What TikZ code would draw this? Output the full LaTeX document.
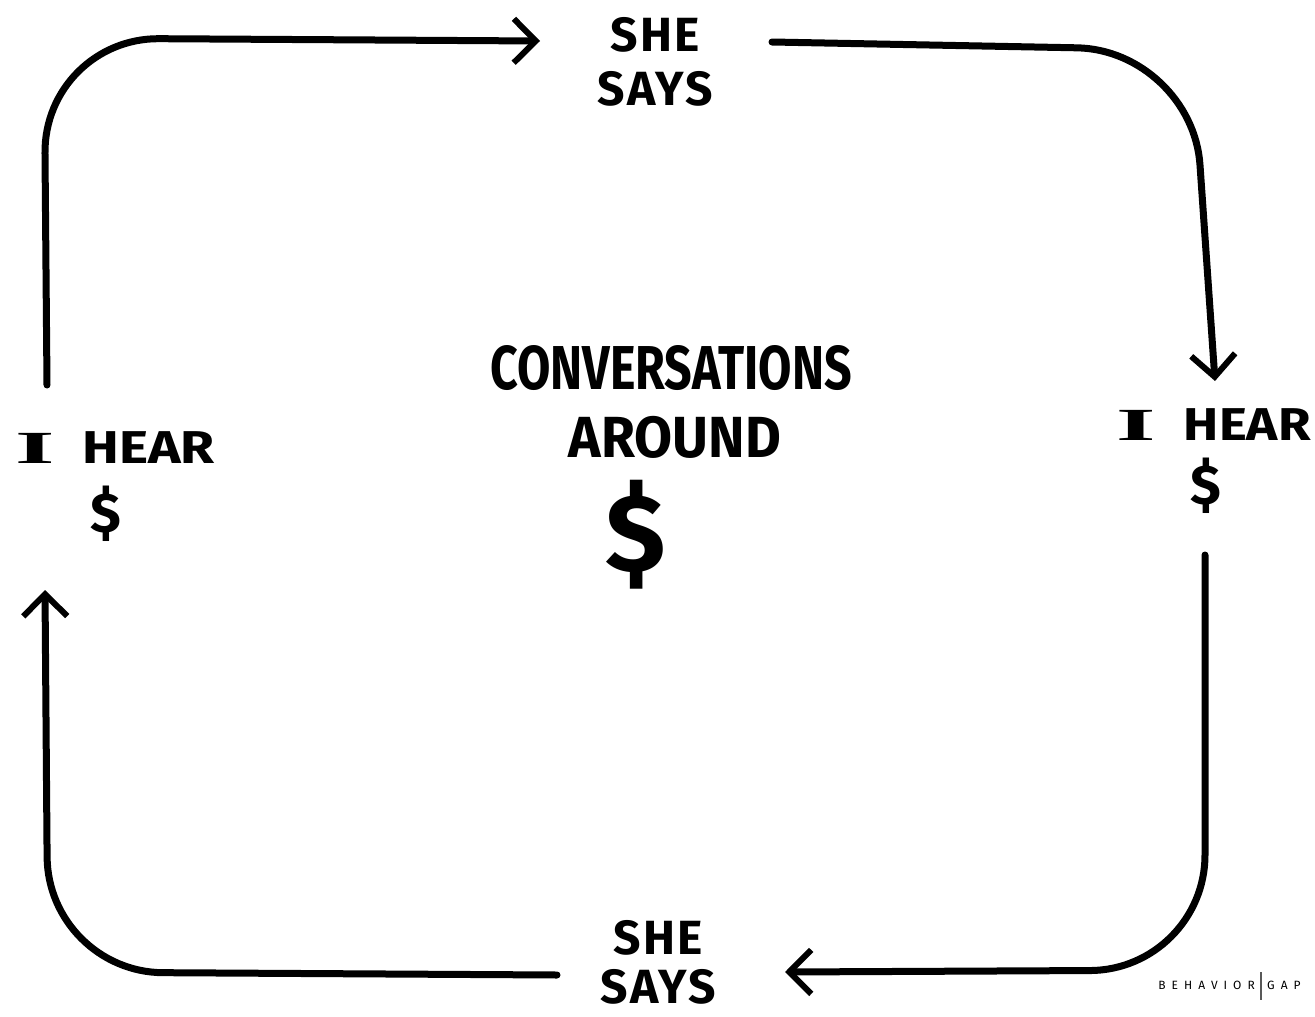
\documentclass[tikz,border=0pt]{standalone}
\usepackage{fontspec}
\setmainfont{Fira Sans}
\newfontfamily\serifI{Liberation Serif}
\usetikzlibrary{arrows.meta}
\tikzset{
  hand/.style={font=\bfseries, inner sep=0pt, align=center, text=black},
  loop/.style={line width=7pt, line cap=round, line join=round, rounded corners=115pt,
    -{Straight Barb[length=22pt,width=44pt,line width=6pt]}},
}
\newcommand{\shefont}{\fontsize{48}{52}\bfseries\selectfont\addfontfeatures{LetterSpace=5}}
\newcommand{\hearfont}{\fontsize{46}{50}\bfseries\selectfont}
\newcommand{\logofont}{\fontsize{12}{14}\selectfont\addfontfeatures{LetterSpace=50}}
\newcommand{\bigI}{\scalebox{2.2}[1]{{\serifI\bfseries I}}}
\begin{document}
\begin{tikzpicture}[x=1pt,y=-1pt]
\useasboundingbox[fill=white] (0,0) rectangle (1315,1017);
% texts
\node[hand, font=\shefont] (ssT) at (655,62) {SHE\\[2pt]SAYS};
\node[hand, font=\shefont] (ssB) at (658,962) {SHE\\[-3pt]SAYS};
\node[hand, font=\hearfont, anchor=west] (ihL) at (15,448)
  {\bigI\hspace{28pt}\scalebox{1.2}[1]{HEAR}};
\node[hand, font=\fontsize{56}{60}\bfseries\selectfont] (dL) at (106,514) {\$};
\node[hand, font=\hearfont, anchor=east] (ihR) at (1311,425)
  {\bigI\hspace{28pt}\scalebox{1.15}[1]{HEAR}};
\node[hand, font=\fontsize{56}{60}\bfseries\selectfont] (dR) at (1206,486) {\$};
\node[hand, font=\fontsize{62}{66}\bfseries\selectfont] (conv) at (671,368)
  {\scalebox{0.78}[1]{CONVERSATIONS}};
\node[hand, font=\fontsize{58}{62}\bfseries\selectfont] (around) at (675,437)
  {\scalebox{0.95}[1]{AROUND}};
\node[hand, font=\fontsize{110}{114}\bfseries\selectfont] (dC) at (636,535) {\$};
% logo
\node[inner sep=0pt, anchor=east, font=\logofont] (lgB) at (1255,985) {BEHAVIOR};
\node[inner sep=0pt, anchor=west, font=\logofont] (lgG) at (1267,985) {GAP};
\coordinate (barT) at (1261,972);
\coordinate (barB) at (1261,1000);
\draw[line width=1.2pt, gray!70!black] (barT) -- (barB);
% connector ends
\coordinate (a1) at (47,385);
\coordinate (b1) at (540,41);
\coordinate (a2) at (772,42);
\coordinate (b2) at (1215,381);
\coordinate (a3) at (1205,555);
\coordinate (b3) at (785,972);
\coordinate (a4) at (557,975);
\coordinate (b4) at (45,590);
% connectors
\draw[loop] (a1) -- (44,38) -- (b1);
\draw[loop] (a2) -- (1192,50) -- (b2);
\draw[loop] (a3) -- (1205,970) -- (b3);
\draw[loop] (a4) -- (48,972) -- (b4);
\end{tikzpicture}
\end{document}
